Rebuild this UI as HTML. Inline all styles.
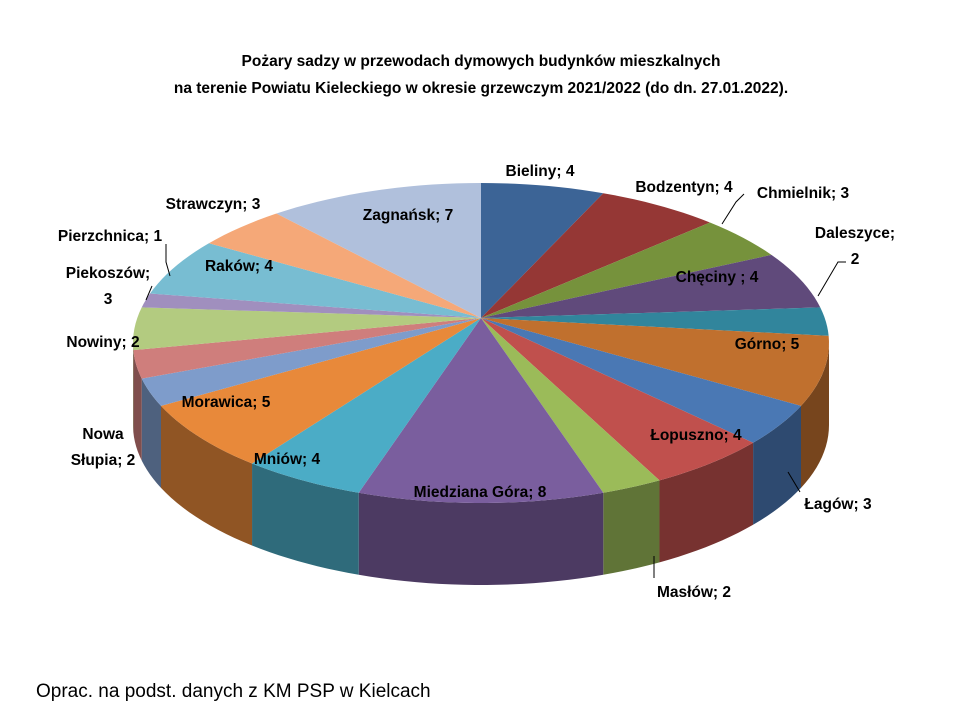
<!DOCTYPE html>
<html>
<head>
<meta charset="utf-8">
<style>
  html, body { margin: 0; padding: 0; background: #ffffff; }
  body { width: 960px; height: 720px; overflow: hidden; }
  svg text { font-family: "Liberation Sans", "DejaVu Sans", sans-serif; }
</style>
</head>
<body>
<svg id="chart" width="960" height="720" viewBox="0 0 960 720" xmlns="http://www.w3.org/2000/svg">
  <rect x="0" y="0" width="960" height="720" fill="#ffffff"/>
  <text x="481" y="66" text-anchor="middle" font-size="15.5" font-weight="bold" fill="#000">Pożary sadzy w przewodach  dymowych budynków  mieszkalnych</text>
  <text x="481" y="93" text-anchor="middle" font-size="15.5" font-weight="bold" fill="#000">na terenie Powiatu Kieleckiego w okresie grzewczym 2021/2022 (do dn.  27.01.2022).</text>
  <g id="sides"></g>
  <g id="tops"></g>
  <g id="leaders"></g>
  <g id="labels"></g>
  <text x="36" y="697" font-size="19" fill="#000">Oprac. na podst. danych z KM PSP w Kielcach</text>
</svg>
<script>
const categories = ["Bieliny","Bodzentyn","Chmielnik","Chęciny ","Daleszyce","Górno","Łagów","Łopuszno","Masłów","Miedziana  Góra","Mniów","Morawica","Nowa Słupia","Nowiny","Piekoszów","Pierzchnica","Raków","Strawczyn","Zagnańsk"];
const values = [4,4,3,4,2,5,3,4,2,8,4,5,2,2,3,1,4,3,7];
const colors = ["#3C6496","#953735","#76923C","#604A7B","#31859C","#C0702E",
                "#4A78B4","#C0504D","#9BBB59","#7A5E9E","#4BACC6","#E8893A",
                "#7E9CCB","#CF7E7C","#B3CB80","#A08FBE","#78BDD2","#F5A878","#B0C0DC"];
// label placement (layout, not data)
const labelPos = [
  [540,176,"m"],[684,192,"m"],[803,198,"m"],[717,282,"m"],[855,238,"m2"],[767,349,"m"],
  [838,509,"m"],[696,440,"m"],[694,597,"m"],[480,497,"m"],[287,464,"m"],[226,407,"m"],
  [103,439,"m2"],[103,347,"m"],[108,278,"m2"],[110,241,"m"],[239,271,"m"],[213,209,"m"],[408,220,"m"]
];
const leaders = [
  [[744,194],[736,202],[722,224]],
  [[846,262],[838,262],[818,296]],
  [[800,492],[788,472]],
  [[654,578],[654,556]],
  [[166,244],[166,262],[170,276]],
  [[152,286],[146,300]]
];

const NS = "http://www.w3.org/2000/svg";
const cx = 481, cy = 343, rx = 348, ry = 160, depth = 82;
const apexX = 481, apexY = 318;
const total = values.reduce((a,b)=>a+b,0);
function ang(v){ return v/total*360; }
function pt(a, d){ const r=a*Math.PI/180; return [cx+rx*Math.sin(r), cy-ry*Math.cos(r)+(d||0)]; }
function shade(hex,f){ const n=parseInt(hex.slice(1),16); const r=Math.round(((n>>16)&255)*f), g=Math.round(((n>>8)&255)*f), b=Math.round((n&255)*f); return `rgb(${r},${g},${b})`; }

const sides = document.getElementById('sides');
const tops = document.getElementById('tops');
let start = 0;
values.forEach((v,i)=>{
  const a0 = start, a1 = start + ang(v);
  start = a1;
  let d = `M${apexX},${apexY}`;
  const steps = Math.max(4, Math.ceil((a1-a0)/2));
  for(let k=0;k<=steps;k++){ const p=pt(a0+(a1-a0)*k/steps); d+=` L${p[0].toFixed(2)},${p[1].toFixed(2)}`; }
  d += ' Z';
  const top = document.createElementNS(NS,'path');
  top.setAttribute('d', d);
  top.setAttribute('fill', colors[i]);
  
  
  tops.appendChild(top);
  const s = Math.max(a0,90), e = Math.min(a1,270);
  if (e > s) {
    let sd = '';
    const st = Math.max(3, Math.ceil((e-s)/2));
    for(let k=0;k<=st;k++){ const p=pt(s+(e-s)*k/st); sd += (k?' L':'M')+p[0].toFixed(2)+','+p[1].toFixed(2); }
    for(let k=st;k>=0;k--){ const p=pt(s+(e-s)*k/st, depth); sd += ' L'+p[0].toFixed(2)+','+p[1].toFixed(2); }
    sd += ' Z';
    const side = document.createElementNS(NS,'path');
    side.setAttribute('d', sd);
    side.setAttribute('fill', shade(colors[i], 0.62));
    
    
    sides.appendChild(side);
  }
});

const lg = document.getElementById('leaders');
leaders.forEach(l=>{
  const pl = document.createElementNS(NS,'polyline');
  pl.setAttribute('points', l.map(p=>p.join(',')).join(' '));
  pl.setAttribute('fill','none');
  pl.setAttribute('stroke','#000');
  pl.setAttribute('stroke-width','1');
  
  
  lg.appendChild(pl);
});

const lb = document.getElementById('labels');
values.forEach((v,i)=>{
  const [x,y,mode] = labelPos[i];
  const t = document.createElementNS(NS,'text');
  t.setAttribute('x', x);
  t.setAttribute('y', y);
  t.setAttribute('text-anchor','middle');
  t.setAttribute('font-size','15.5');
  t.setAttribute('font-weight','bold');
  t.setAttribute('fill','#000');
  
  
  const name = categories[i];
  if (mode === 'm2') {
    let l1, l2;
    if (name.trim().indexOf(' ') > 0) { const parts = name.trim().split(' '); l1 = parts[0]; l2 = parts.slice(1).join(' ') + '; ' + v; }
    else { l1 = name + ';'; l2 = String(v); }
    const s1 = document.createElementNS(NS,'tspan'); s1.setAttribute('x',x); s1.textContent = l1;
    const s2 = document.createElementNS(NS,'tspan'); s2.setAttribute('x',x); s2.setAttribute('dy','26'); s2.textContent = l2;
    t.appendChild(s1); t.appendChild(s2);
  } else {
    t.textContent = name + '; ' + v;
  }
  lb.appendChild(t);
});
</script>
</body>
</html>
